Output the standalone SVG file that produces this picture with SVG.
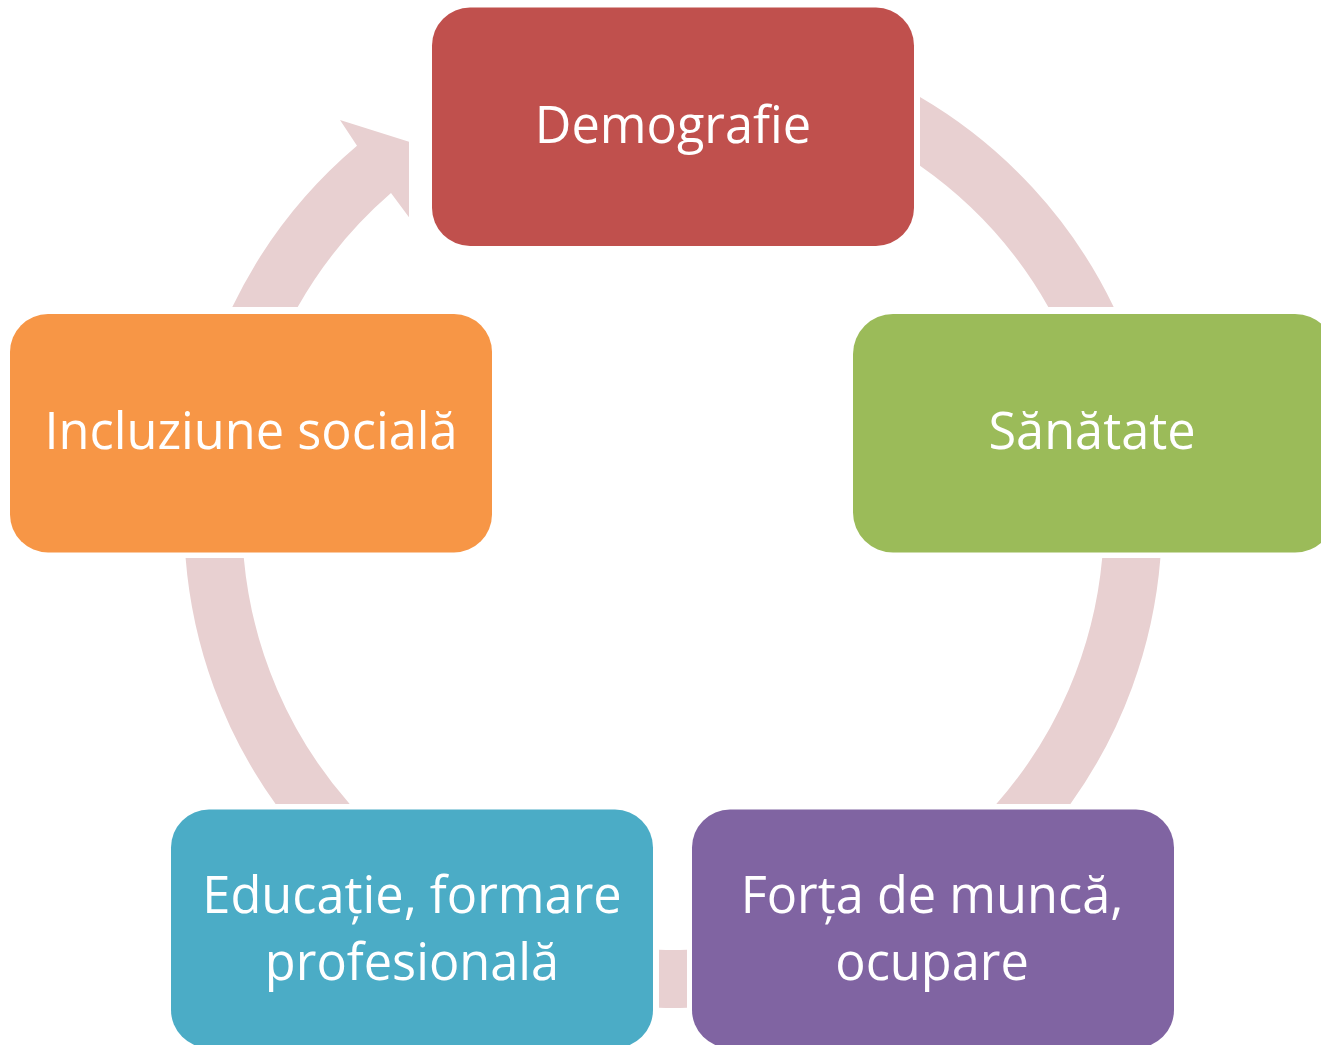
<svg xmlns="http://www.w3.org/2000/svg" width="1321" height="1045" viewBox="0 0 1321 1045">
<style>
.arc{fill:#E8D0D1;stroke:none}
.box{stroke:none}
.lbl{font-family:"Open Sans","Noto Sans","DejaVu Sans",sans-serif;font-size:50.5px;fill:#FFFFFF;text-anchor:middle}
</style>
<rect width="1321" height="1045" fill="#FFFFFF"/>
<g id="connectors">
<path class="arc" d="M 920 97 A 489 489 0 0 1 1113.7 307 L 1048.3 307 A 431 431 0 0 0 920 165.8 Z"/>
<path class="arc" d="M 1160.4 558 A 489 489 0 0 1 1070.4 804 L 996.3 804 A 431 431 0 0 0 1102.2 558 Z"/>
<path class="arc" d="M 687 1007.8 A 489 489 0 0 1 659 1007.8 L 659 949.8 A 431 431 0 0 0 687 949.8 Z"/>
<path class="arc" d="M 275.6 804 A 489 489 0 0 1 185.6 558 L 243.8 558 A 431 431 0 0 0 349.7 804 Z"/>
<path class="arc" d="M 232.3 307 A 489 489 0 0 1 357 145.8 L 340 120 L 409 141.7 L 409 217.3 L 391 193.1 A 431 431 0 0 0 297.7 307 Z"/>
</g>
<g id="node-demografie">
<rect class="box" x="432" y="7.5" width="482" height="238.5" rx="38" ry="38" fill="#C0504D"/>
<text class="lbl" x="673" y="143">Demografie</text>
</g>
<g id="node-sanatate">
<rect class="box" x="853" y="314" width="482" height="238.5" rx="40" ry="40" fill="#9BBB59"/>
<text class="lbl" x="1092" y="448.5">Sănătate</text>
</g>
<g id="node-forta">
<rect class="box" x="692" y="809.5" width="482" height="238.5" rx="38" ry="38" fill="#8064A2"/>
<text class="lbl" x="932" y="913">Forța de muncă,</text>
<text class="lbl" x="932" y="979.5">ocupare</text>
</g>
<g id="node-educatie">
<rect class="box" x="171" y="809.5" width="482" height="238.5" rx="38" ry="38" fill="#4BACC6"/>
<text class="lbl" x="412" y="913">Educație, formare</text>
<text class="lbl" x="412" y="979.5">profesională</text>
</g>
<g id="node-incluziune">
<rect class="box" x="10" y="314" width="482" height="238.5" rx="38" ry="38" fill="#F79646"/>
<text class="lbl" x="251" y="448.5">Incluziune socială</text>
</g>
</svg>
